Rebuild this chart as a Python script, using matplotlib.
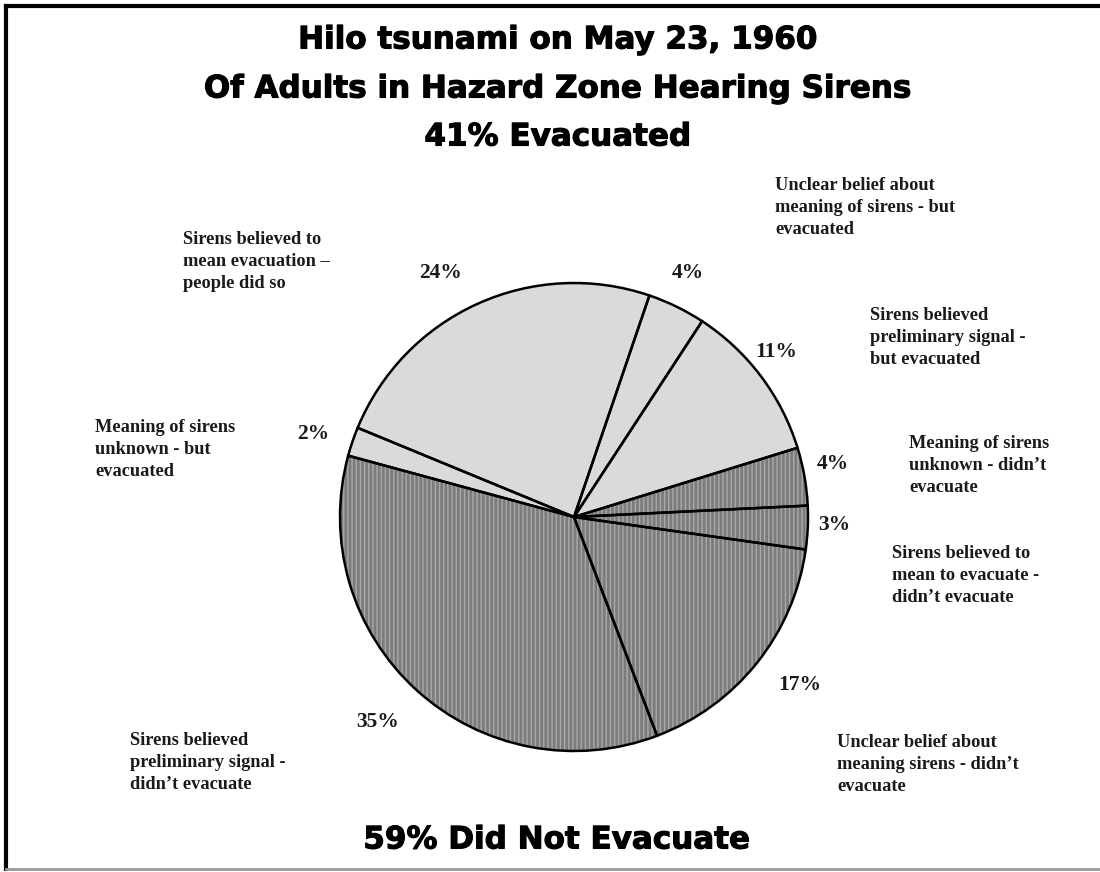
import matplotlib.pyplot as plt
import matplotlib.patheffects as pe
from matplotlib.lines import Line2D

# slices, clockwise starting from the small 2% slice on the left
shares = [2, 24, 4, 11, 4, 3, 17, 35]
evacuated = [True, True, True, True, False, False, False, False]
labels = [
    "Meaning of sirens\nunknown - but\nevacuated",
    "Sirens believed to\nmean evacuation \u2013\npeople did so",
    "Unclear belief about\nmeaning of sirens - but\nevacuated",
    "Sirens believed\npreliminary signal -\nbut evacuated",
    "Meaning of sirens\nunknown - didn\u2019t\nevacuate",
    "Sirens believed to\nmean to evacuate -\ndidn\u2019t evacuate",
    "Unclear belief about\nmeaning sirens - didn\u2019t\nevacuate",
    "Sirens believed\npreliminary signal -\ndidn\u2019t evacuate",
]
titles = ["Hilo tsunami on May 23, 1960",
          "Of Adults in Hazard Zone Hearing Sirens",
          "41% Evacuated"]
footer = "59% Did Not Evacuate"

# layout (pixel coords, y from top)
W, H = 1100, 872
cx, cy, r = 574, 517, 234
pct_pos = [(313, 434), (440, 273), (688, 273), (776, 352),
           (833, 464), (834, 525), (800, 685), (378, 722)]
lab_pos = [(95, 419), (183, 231), (775, 177), (870, 307),
           (909, 435), (892, 545), (837, 734), (130, 732)]

light = "#dadada"
dark = "#7c7c7c"

fig = plt.figure(figsize=(W / 100, H / 100), dpi=100)
ax = fig.add_axes([0, 0, 1, 1])
ax.set_xlim(0, W)
ax.set_ylim(0, H)
ax.set_aspect("equal")
ax.axis("off")

start = 164.8
fills = [light if e else dark for e in evacuated]
# fill + stripes
wedges, _ = ax.pie(shares, colors=fills, startangle=start, counterclock=False,
                   center=(cx, H - cy), radius=r, normalize=True,
                   wedgeprops=dict(linewidth=0))
for w, e in zip(wedges, evacuated):
    if not e:
        w.set_hatch("||||")
        w.set_edgecolor("#aaaaaa")
        w.set_linewidth(0)
# outlines
outl, _ = ax.pie(shares, colors=["none"] * len(shares), startangle=start,
                 counterclock=False, center=(cx, H - cy), radius=r,
                 normalize=True,
                 wedgeprops=dict(linewidth=1.8, edgecolor="black", fill=False))
ax.set_xlim(0, W)
ax.set_ylim(0, H)

serif = dict(family="Liberation Serif", fontweight="bold", color="#1a1a1a")
for s, (px, py) in zip(shares, pct_pos):
    ax.text(px, H - py, f"{s}%", ha="center", va="center", fontsize=15.5, **serif)
for lab, (px, py) in zip(labels, lab_pos):
    ax.text(px, H - py, lab, ha="left", va="top", fontsize=13.2,
            linespacing=1.37, **serif)

sans = dict(family="DejaVu Sans", fontweight="bold", color="black")
tt = []
for t, ty in zip(titles, [40, 89, 137]):
    tt.append(ax.text(558, H - ty, t, ha="center", va="center", fontsize=22, **sans))
tt.append(ax.text(557, H - 840, footer, ha="center", va="center", fontsize=22, **sans))

# fit title size so the second line is as wide as in the reference (~711 px)
rend = fig.canvas.get_renderer()
wpx = tt[1].get_window_extent(renderer=rend).width
size = 22 * 705 / wpx
for t in tt:
    t.set_fontsize(size)
    # slightly heavier strokes, the original uses a black-weight face
    t.set_path_effects([pe.withStroke(linewidth=0.8, foreground="black")])

# page border (top, left black; bottom grey)
fig.add_artist(Line2D([6 / W, 1], [1 - 6 / H, 1 - 6 / H], color="black", lw=3,
                      transform=fig.transFigure))
fig.add_artist(Line2D([6 / W, 6 / W], [1 - 6 / H, 3 / H], color="black", lw=3,
                      transform=fig.transFigure))
fig.add_artist(Line2D([6 / W, 1], [3 / H, 3 / H], color="#999999", lw=2,
                      transform=fig.transFigure))

fig.savefig("out.png", dpi=100)
